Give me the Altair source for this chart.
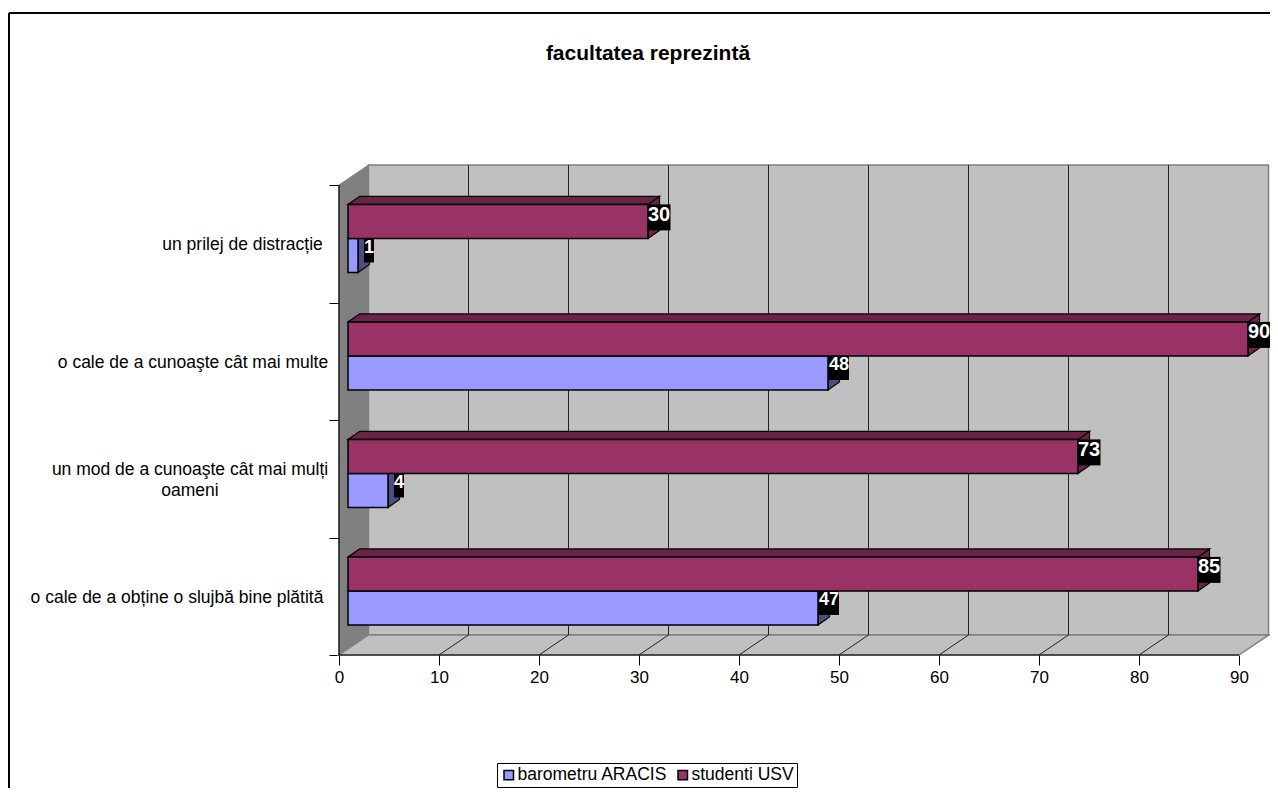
import altair as alt
import pandas as pd

# ---------- data ----------
categories = [
    "o cale de a obține o slujbă bine plătită",
    "un mod de a cunoaşte cât mai mulți\noameni",
    "o cale de a cunoaşte cât mai multe",
    "un prilej de distracție",
]
barometru = [47, 4, 48, 1]
studenti = [85, 73, 90, 30]
series_names = ["barometru ARACIS", "studenti USV"]
series_colors = ["#9999FF", "#993366"]
x_ticks = [0, 10, 20, 30, 40, 50, 60, 70, 80, 90]
y_ticks = [0, 1, 2, 3, 4]
chart_title = "facultatea reprezintă"

# ---------- layout ----------
W, H = 1262, 780
PX_X, PX_Y = 10.0, 117.5              # pixels per data unit
X0, Y0 = 331.0, 647.0                 # view position of the (0, 0) corner
x_dom = [-X0 / PX_X, (W - X0) / PX_X]
y_dom = [-(H - Y0) / PX_Y, Y0 / PX_Y]
DX, DY = 2.95, 20 / PX_Y              # oblique depth of the walls
BAR_X0 = 0.9                          # bars start this far right of zero
BDX, BDY = 1.15, 8 / PX_Y             # oblique depth of a bar
LOW, MID, TOP = 0.255, 0.545, 0.835   # front-face bands inside a category
FONT = "Liberation Sans"
label_x = [-16.2, -14.9, -14.6, -9.65]
label_y = [0.5, 1.585, 2.5, 3.5]

xs = alt.Scale(domain=x_dom, nice=False, zero=False)
ys = alt.Scale(domain=y_dom, nice=False, zero=False)

x_axis = alt.Axis(
    values=x_ticks, offset=Y0 - H, domain=False, grid=False, tickSize=10, tickColor="black",
    labelFont=FONT, labelFontSize=17, labelColor="black", labelPadding=4, labelFlush=False,
    labelOverlap=False, title=None)
y_axis = alt.Axis(
    values=y_ticks, offset=-X0, domain=False, grid=False, tickSize=10, tickColor="black",
    labels=False, title=None)


def X(f="x"):
    return alt.X(f"{f}:Q", scale=xs, stack=None, axis=x_axis)


def Y(f="y"):
    return alt.Y(f"{f}:Q", scale=ys, stack=None, axis=y_axis)


def side(fid, x, y0, y1, dx, dy):
    return [
        {"id": fid, "x": x, "y": y0, "y2": y1},
        {"id": fid, "x": x + dx, "y": y0 + dy, "y2": y1 + dy},
    ]


def top(fid, x0, x1, y, dx, dy):
    return [
        {"id": fid, "y": y, "x": x0, "x2": x1},
        {"id": fid, "y": y + dy, "x": x0 + dx, "x2": x1 + dx},
    ]


def side_layer(rows, fill, stroke, sw=1.2):
    return alt.Chart(pd.DataFrame(rows)).mark_area(
        fill=fill, stroke=stroke, strokeWidth=sw, opacity=1
    ).encode(x=X(), y=Y(), y2=alt.Y2("y2:Q"), detail="id:N")


def top_layer(rows, fill, stroke, sw=1.2):
    return alt.Chart(pd.DataFrame(rows)).mark_area(
        orient="horizontal", fill=fill, stroke=stroke, strokeWidth=sw, opacity=1
    ).encode(x=X(), x2=alt.X2("x2:Q"), y=Y(), detail="id:N")


def seg_layer(rows, color, sw=1.0):
    return alt.Chart(pd.DataFrame(rows)).mark_line(color=color, strokeWidth=sw).encode(
        x=X(), y=Y(), detail="id:N", order="o:Q"
    )


color = alt.Color(
    "s:N",
    scale=alt.Scale(domain=series_names, range=series_colors),
    legend=alt.Legend(
        title=None, orient="none", legendX=489, legendY=755, direction="horizontal",
        fillColor="white", strokeColor="black", padding=3,
        symbolType="square", symbolSize=90, symbolStrokeColor="black",
        symbolStrokeWidth=1.5, symbolOpacity=1,
        labelFont=FONT, labelFontSize=17.5, labelColor="black", labelOffset=0,
        columnPadding=6, labelLimit=300,
    ),
)

# ---------- chrome: walls, floor, grid ----------
wall_rows = [{"x": DX, "x2": 90 + DX, "y": DY, "y2": 4 + DY}]
back = alt.Chart(pd.DataFrame(wall_rows)).mark_rect(
    fill="#C0C0C0", stroke="#808080", strokeWidth=1.5
).encode(x=X(), x2=alt.X2("x2:Q"), y=Y(), y2=alt.Y2("y2:Q"))
left_wall = side_layer(side("w", 0, 0, 4, DX, DY), "#808080", "#808080", 1)
floor = top_layer(top("f", 0, 90, 0, DX, DY), "#C0C0C0", "#808080", 1.5)

grid_rows = []
for n, v in enumerate(x_ticks[1:-1]):
    grid_rows += [
        {"id": f"g{n}", "o": 0, "x": v + DX, "y": DY},
        {"id": f"g{n}", "o": 1, "x": v + DX, "y": 4 + DY},
        {"id": f"s{n}", "o": 0, "x": v, "y": 0},
        {"id": f"s{n}", "o": 1, "x": v + DX, "y": DY},
    ]
grid = seg_layer(grid_rows, "#222222", 1)

front_rows = [
    {"id": "a", "o": 0, "x": 0, "y": 0},
    {"id": "a", "o": 1, "x": 90, "y": 0},
    {"id": "b", "o": 0, "x": 0, "y": 0},
    {"id": "b", "o": 1, "x": 0, "y": 4},
]
front_lines = seg_layer(front_rows, "black", 1.2)

# ---------- bars ----------
rows_b, rows_s = [], []
for i in range(4):
    rows_b.append({"s": series_names[0], "v": barometru[i], "x": BAR_X0, "x2": BAR_X0 + barometru[i],
                   "y": i + LOW, "y2": i + MID})
    rows_s.append({"s": series_names[1], "v": studenti[i], "x": BAR_X0, "x2": BAR_X0 + studenti[i],
                   "y": i + MID, "y2": i + TOP})
df_b, df_s = pd.DataFrame(rows_b), pd.DataFrame(rows_s)


def front_layer(df):
    return alt.Chart(df).mark_rect(stroke="black", strokeWidth=1.5, opacity=1).encode(
        x=X(), x2=alt.X2("x2:Q"), y=Y(), y2=alt.Y2("y2:Q"), color=color
    )


side_b = []
for i, v in enumerate(barometru):
    side_b += side(f"b{i}", BAR_X0 + v, i + LOW, i + MID, BDX, BDY)
side_s, top_s = [], []
for i, v in enumerate(studenti):
    side_s += side(f"s{i}", BAR_X0 + v, i + MID, i + TOP, BDX, BDY)
    top_s += top(f"t{i}", BAR_X0, BAR_X0 + v, i + TOP, BDX, BDY)


def value_labels(values, y_band, unit_w, box_h, text_dy, size):
    rows = []
    for i, v in enumerate(values):
        cx = BAR_X0 + v + 1.1
        w = unit_w * len(str(v))
        yt = i + y_band
        rows.append({"t": str(v), "cx": cx, "x": cx - w / 2, "x2": cx + w / 2,
                     "y": yt, "y2": yt - box_h / PX_Y, "ty": yt - text_dy / PX_Y})
    d = pd.DataFrame(rows)
    box = alt.Chart(d).mark_rect(fill="black", opacity=1).encode(
        x=X(), x2=alt.X2("x2:Q"), y=Y(), y2=alt.Y2("y2:Q"))
    txt = alt.Chart(d).mark_text(
        font=FONT, fontWeight="bold", fontSize=size, color="white", baseline="middle", align="center"
    ).encode(x=X("cx"), y=Y("ty"), text="t:N")
    return box + txt


labels_b = value_labels(barometru, MID, 1.0, 24, 9.5, 18)
labels_s = value_labels(studenti, TOP, 1.15, 26, 10.5, 20)

# ---------- category labels and frame ----------
cat_text = alt.Chart(pd.DataFrame({"t": categories, "x": label_x, "y": label_y})).mark_text(
    font=FONT, fontSize=17.5, color="black", align="center", baseline="middle", lineBreak="\n",
    lineHeight=21, dy=1.5
).encode(x=X(), y=Y(), text="t:N")

frame_l = alt.Chart(pd.DataFrame({"a": [0]})).mark_rule(color="black", strokeWidth=2).encode(
    x=alt.value(1), y=alt.value(5), y2=alt.value(H))
frame_t = alt.Chart(pd.DataFrame({"a": [0]})).mark_rule(color="black", strokeWidth=2).encode(
    x=alt.value(1), x2=alt.value(W), y=alt.value(5))

chart = alt.layer(
    back, left_wall, floor, grid, front_lines,
    side_layer(side_b, "#4D4D80", "black"),
    front_layer(df_b),
    labels_b,
    side_layer(side_s, "#6B2447", "black"),
    top_layer(top_s, "#6B2447", "black"),
    front_layer(df_s),
    labels_s,
    cat_text, frame_l, frame_t,
).properties(
    width=W, height=H,
    padding=0,
    background="white",
    autosize=alt.AutoSizeParams(type="none"),
    title=alt.TitleParams(
        chart_title, font=FONT, fontSize=21, fontWeight="bold", color="black",
        anchor="middle", offset=-56, dx=9,
    ),
).configure_view(stroke=None)

chart.save("out.html", embed_options={"renderer": "svg", "actions": False})
